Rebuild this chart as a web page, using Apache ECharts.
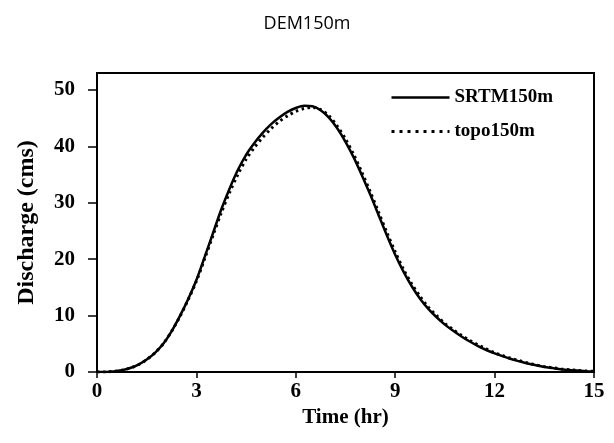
<!DOCTYPE html>
<html>
<head>
<meta charset="utf-8">
<script src="https://cdn.jsdelivr.net/npm/echarts@6/dist/echarts.min.js"></script>
<style>html,body{margin:0;padding:0;background:#fff}#c{width:614px;height:443px}</style>
</head>
<body>
<div id="c"></div>
<script>
const titleText = 'DEM150m';
const times = [0,0.25,0.5,0.75,1,1.25,1.5,1.75,2,2.25,2.5,2.75,3,3.25,3.5,3.75,4,4.25,4.5,4.75,5,5.25,5.5,5.75,6,6.25,6.5,6.75,7,7.25,7.5,7.75,8,8.25,8.5,8.75,9,9.25,9.5,9.75,10,10.25,10.5,10.75,11,11.25,11.5,11.75,12,12.25,12.5,12.75,13,13.25,13.5,13.75,14,14.25,14.5,14.75,15];
const srtm = [0,0.02,0.1,0.3,0.7,1.3,2.2,3.4,5.0,7.2,9.9,12.9,16.3,20.4,24.6,28.8,32.5,35.8,38.5,40.6,42.4,43.9,45.1,46.1,46.8,47.2,47.1,46.4,45.1,43.2,40.8,38.0,34.8,31.4,27.8,24.2,20.8,17.8,15.2,13.0,11.2,9.7,8.4,7.3,6.3,5.4,4.6,3.9,3.3,2.8,2.3,1.9,1.5,1.2,0.9,0.7,0.5,0.35,0.25,0.15,0.1];
const topo = [0,0.02,0.1,0.3,0.7,1.3,2.2,3.4,5.0,7.2,9.8,12.8,16.1,20.1,24.2,28.2,31.8,35.0,37.7,39.8,41.6,43.1,44.4,45.4,46.2,46.7,46.9,46.5,45.4,43.6,41.3,38.5,35.3,31.9,28.3,24.7,21.3,18.2,15.6,13.4,11.5,10.0,8.6,7.5,6.5,5.6,4.8,4.1,3.4,2.9,2.4,2.0,1.6,1.25,0.95,0.75,0.55,0.4,0.28,0.18,0.12];
const xTicks = [0,3,6,9,12,15];
const yTicks = [0,10,20,30,40,50];
const seriesNames = ['SRTM150m','topo150m'];

const serif = '"Liberation Serif","Times New Roman",serif';
const chart = echarts.init(document.getElementById('c'), null, {renderer:'canvas'});
chart.setOption({
  animation:false,
  backgroundColor:'#fff',
  title:{text:titleText,left:'center',top:10,textStyle:{fontFamily:'"Open Sans","Noto Sans",sans-serif',fontWeight:'normal',fontSize:18,color:'#000'}},
  grid:{left:97,right:20,top:73,bottom:71,show:true,borderColor:'#000',borderWidth:2,backgroundColor:'transparent'},
  legend:{orient:'vertical',left:385,top:83,itemWidth:58,itemHeight:14,itemGap:15,
    itemStyle:{opacity:0},
    textStyle:{fontFamily:serif,fontWeight:'bold',fontSize:19,color:'#000'},
    data:[{name:seriesNames[0],lineStyle:{width:2.5}},{name:seriesNames[1],lineStyle:{type:[3,5],width:3}}]},
  xAxis:{type:'value',min:0,max:15,interval:3,
    name:'Time (hr)',nameLocation:'middle',nameGap:33,
    nameTextStyle:{fontFamily:serif,fontWeight:'bold',fontSize:21,color:'#000'},
    axisLine:{show:true,lineStyle:{color:'#000',width:2}},
    axisTick:{show:true,length:6,lineStyle:{color:'#000',width:1.5},customValues:xTicks},
    axisLabel:{fontFamily:serif,fontWeight:'bold',fontSize:21,color:'#000',margin:9,customValues:xTicks},
    splitLine:{show:false}},
  yAxis:{type:'value',min:0,max:53,
    name:'Discharge (cms)',nameLocation:'middle',nameGap:58,nameRotate:90,
    nameTextStyle:{fontFamily:serif,fontWeight:'bold',fontSize:24,color:'#000'},
    axisLine:{show:true,lineStyle:{color:'#000',width:2}},
    axisTick:{show:true,length:9,lineStyle:{color:'#000',width:1.5},customValues:yTicks},
    axisLabel:{fontFamily:serif,fontWeight:'bold',fontSize:21,color:'#000',margin:22,customValues:yTicks},
    splitLine:{show:false}},
  series:[
    {name:seriesNames[0],type:'line',smooth:0.3,symbol:'none',data:times.map((t,i)=>[t,srtm[i]]),
      lineStyle:{color:'#000',width:2.5},itemStyle:{color:'#000'},z:3},
    {name:seriesNames[1],type:'line',smooth:0.3,symbol:'none',data:times.map((t,i)=>[t,topo[i]]),
      lineStyle:{color:'#000',width:3,type:[2.5,3.5]},itemStyle:{color:'#000'},z:2}
  ]
});
</script>
</body>
</html>
